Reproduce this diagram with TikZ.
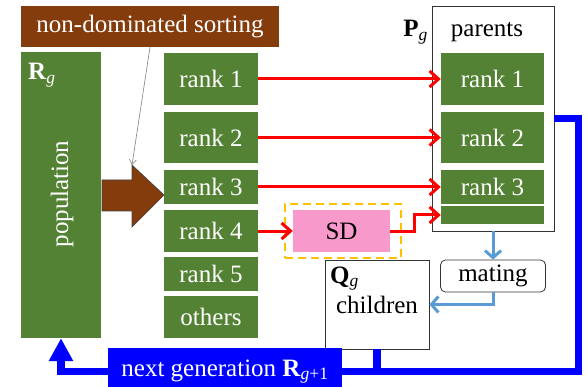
\documentclass[tikz,border=0pt]{standalone}
\usepackage{fontspec}
\setmainfont{Liberation Serif}
\usetikzlibrary{arrows.meta, calc, positioning}
\definecolor{rankgreen}{RGB}{84,130,53}
\definecolor{sortbrown}{RGB}{132,60,12}
\definecolor{sdpink}{RGB}{248,153,204}
\definecolor{sdorange}{RGB}{255,192,0}
\definecolor{mateblue}{RGB}{91,155,213}

\begin{document}
\begin{tikzpicture}[line cap=butt,line join=miter,x=1pt,y=-1pt,
  every node/.style={font=\fontsize{25}{30}\selectfont, inner sep=0pt},
  rankbox/.style 2 args={fill=rankgreen, text=white, minimum width=#1, minimum height=#2},
  plainbox/.style 2 args={draw=black!80, line width=0.8pt, fill=white, minimum width=#1, minimum height=#2},
  redarrow/.style={red, line width=3pt, -{Straight Barb[length=9pt,width=16pt]}},
  matearrow/.style={mateblue, line width=3pt, -{Straight Barb[length=7pt,width=16pt]}},
  genline/.style={blue, line width=7.5pt}]
\useasboundingbox (0,0) rectangle (588,387);

% Sorting and population
\node [rankbox={258}{41}, fill=sortbrown] (sort) at (150,26.5) {non-dominated sorting};
\node [rankbox={80}{286}] (pop) at (61,195) {};
\node [rotate=90, text=white] (poptext) at (62,194) {population};
\node [anchor=base west, text=white] (rg) at (28,80) {\textbf{R}\textsubscript{\textit{g}}};

% Ranks after sorting
\foreach \nm/\yc/\hgt/\txt in {r1/79/52/rank 1, r2/137.5/51/rank 2, r3/187/34/rank 3,
                              r4/231/42/rank 4, r5/274/34/rank 5, r6/317/42/others}
  \node [rankbox={94}{\hgt}] (\nm) at (211,\yc) {\txt};

% Sorting arrow
\coordinate (headtop) at (132,165);
\draw [fill=sortbrown, draw=black!75, line width=0.6pt] (102,180) -- (132,180) -- (headtop)
  -- (164,195) -- (132,227) -- (132,211) -- (102,211) -- cycle;
\draw [gray, line width=0.6pt, -{Straight Barb[length=5pt,width=7pt]}] (sort.south) -- (headtop);

% Parents
\node [plainbox={122}{225}] (parents) at (493,118.5) {};
\node [anchor=base] (partext) at (487,37) {parents};
\node [anchor=base east] (pg) at (428,37) {\textbf{P}\textsubscript{\textit{g}}};
\foreach \nm/\yc/\hgt/\txt in {p1/79/52/rank 1, p2/137.5/51/rank 2, p3/187/34/rank 3, p4/215/18/}
  \node [rankbox={103}{\hgt}] (\nm) at (492.5,\yc) {\txt};

% SD
\node [draw=sdorange, line width=2.5pt, dash pattern=on 8pt off 5pt,
  minimum width=116, minimum height=54] (sdframe) at (343,231) {};
\node [fill=sdpink, minimum width=97, minimum height=42] (sd) at (341.5,231) {SD};

% Children and mating
\node [plainbox={104}{89}] (children) at (377,304.5) {};
\node [anchor=base west] (qg) at (330,283) {\textbf{Q}\textsubscript{\textit{g}}};
\node [anchor=base] (chtext) at (377,313) {children};
\node [plainbox={105}{32}, rounded corners=5pt] (mating) at (493,276) {mating};

% Next generation
\node [fill=blue, text=white, minimum width=234, minimum height=47] (nextgen) at (225,371.5)
  {next generation \textbf{R}\textsubscript{\textit{g}+1}};

% Arrows
\foreach \i in {1,2,3} \draw [redarrow] (r\i.east) -- (p\i.west);
\draw [redarrow] (r4.east) -- (sd.west);
\draw [redarrow] (sd.east) -- ++(24,0) |- (p4.west);
\draw [matearrow] (parents.south) -- (mating.north);
\draw [matearrow] (mating.south) |- (children.east);
\draw [genline] (parents.east) -- ++(24,0) |- (nextgen.east);
\draw [genline] (children.south) -- (children.south |- nextgen.east);
\draw [genline, -{Triangle[length=23pt,width=23pt]}] (nextgen.west) -| (pop.south);
\end{tikzpicture}
\end{document}
